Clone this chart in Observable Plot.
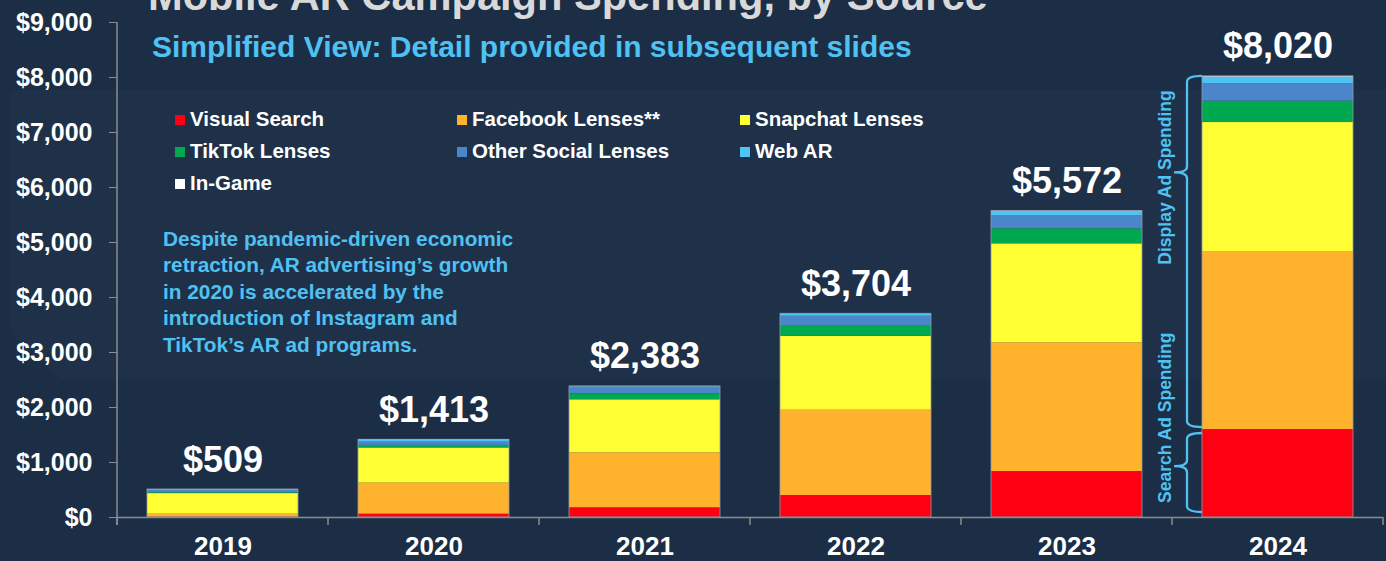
<!DOCTYPE html>
<html>
<head>
<meta charset="utf-8">
<script src="https://cdn.jsdelivr.net/npm/d3@7"></script>
<script src="https://cdn.jsdelivr.net/npm/@observablehq/plot@0.6"></script>
<style>
  html, body { margin: 0; padding: 0; background: #1c2e45; }
  #wrap { position: relative; width: 1386px; height: 561px; overflow: hidden; background: #1c2e45;
          font-family: "Liberation Sans", Arial, Helvetica, sans-serif; font-weight: bold; }
  .ov { position: absolute; white-space: nowrap; line-height: 1; }
  #panel { position: absolute; left: 11px; top: 90px; width: 1375px; height: 289px; background: #1f3149;
           clip-path: polygon(0 0, 100% 0, 100% 100%, 50px 100%, 0 244px); }
  #chart { position: absolute; left: 0; top: 0; }
  .sq { position: absolute; width: 10px; height: 10px; }
  .lg { position: absolute; white-space: nowrap; line-height: 1; font-size: 20.5px; color: #ffffff; }
</style>
</head>
<body>
<div id="wrap">
  <div id="panel"></div>
  <div id="chart"></div>
  <div class="ov" style="left:148px; top:-25px; font-size:41.6px; color:#d9d9d9;">Mobile AR Campaign Spending, by Source</div>
  <div class="ov" style="left:152px; top:31.6px; font-size:30px; color:#4fc1f2;">Simplified View: Detail provided in subsequent slides</div>
  <div id="legend"></div>
  <div id="note" class="ov" style="left:163px; top:225.5px; font-size:20.8px; line-height:26.6px; color:#4fc1f2;"></div>
</div>
<script>
// ---------- data ----------
const years = ["2019", "2020", "2021", "2022", "2023", "2024"];
const sources = ["Visual Search", "Facebook Lenses**", "Snapchat Lenses", "TikTok Lenses", "Other Social Lenses", "Web AR", "In-Game"];
const visualSearch      = [5, 60, 176, 400, 836, 1600];
const facebookLenses    = [55, 565, 1000, 1550, 2340, 3236];
const snapchatLenses    = [375, 640, 964, 1345, 1800, 2345];
const tiktokLenses      = [15, 45, 109, 182, 273, 388];
const otherSocialLenses = [40, 60, 120, 182, 242, 315];
const webAR             = [15, 30, 10, 40, 73, 121];
const inGame            = [4, 13, 4, 5, 8, 15];
const totals            = [509, 1413, 2383, 3704, 5572, 8020];
const yTicks = [0, 1000, 2000, 3000, 4000, 5000, 6000, 7000, 8000, 9000];
const sourceColors = ["#ff0013", "#ffb22c", "#ffff33", "#00a94f", "#4a86c8", "#4ec3f5", "#ffffff"];
const legendRows = [
  ["Visual Search", "Facebook Lenses**", "Snapchat Lenses"],
  ["TikTok Lenses", "Other Social Lenses", "Web AR"],
  ["In-Game"]
];
const noteLines = ["Despite pandemic-driven economic", "retraction, AR advertising\u2019s growth", "in 2020 is accelerated by the", "introduction of Instagram and", "TikTok\u2019s AR ad programs."];
const braceLabels = ["Display Ad Spending", "Search Ad Spending"];

// ---------- build table ----------
const seriesValues = [visualSearch, facebookLenses, snapchatLenses, tiktokLenses, otherSocialLenses, webAR, inGame];
const rows = [];
years.forEach((yr, i) => {
  sources.forEach((s, j) => rows.push({year: yr, source: s, value: seriesValues[j][i]}));
});
const totalRows = years.map((yr, i) => ({year: yr, total: totals[i]}));

const FONT = '"Liberation Sans", Arial, Helvetica, sans-serif';
const AXIS = "#8c8c8c";
const BLUE_TXT = "#4fc1f2";

const chart = Plot.plot({
  width: 1386,
  height: 561,
  marginLeft: 117,
  marginRight: 3,
  marginTop: 22,
  marginBottom: 44,
  style: {background: "transparent", fontFamily: FONT, color: "#ffffff", overflow: "visible"},
  x: {domain: years, paddingInner: 0.285, paddingOuter: 0.1425, axis: null},
  y: {domain: [0, 9000], axis: null},
  color: {domain: sources, range: sourceColors},
  marks: [
    Plot.barY(rows, {x: "year", y: "value", fill: "source"}),
    Plot.barY(totalRows, {x: "year", y: "total", fill: "none", stroke: "#8d9bab", strokeWidth: 0.8}),
    Plot.ruleY([0], {stroke: AXIS, strokeWidth: 1.5}),
    Plot.axisY({ticks: yTicks, tickSize: 8, tickPadding: 17, tickFormat: d => "$" + d3.format(",")(d), label: null,
                fill: "#ffffff", stroke: AXIS, fontSize: 25, fontWeight: "bold", fontFamily: FONT}),
    Plot.axisX({tickSize: 0, tickPadding: 19, label: null, fill: "#ffffff", fontSize: 26, fontWeight: "bold", fontFamily: FONT}),
    Plot.text(totalRows, {x: "year", y: "total", text: d => "$" + d3.format(",")(d.total),
                dy: -18, lineAnchor: "bottom", fill: "#ffffff", fontSize: 36, fontWeight: "bold", fontFamily: FONT})
  ]
});
document.getElementById("chart").appendChild(chart);

// ---------- axis lines, band ticks, braces (via Plot scales) ----------
const xs = chart.scale("x");
const ys = chart.scale("y");
const svg = d3.select(chart);
const g = svg.append("g");
const x0 = xs.range[0];
const step = xs.step;
// y axis line
g.append("line").attr("x1", x0).attr("x2", x0)
  .attr("y1", ys.apply(yTicks[yTicks.length - 1])).attr("y2", ys.apply(0) + 8)
  .attr("stroke", AXIS).attr("stroke-width", 1.5);
// band boundary ticks on x axis
for (let i = 0; i <= years.length; i++) {
  const xx = x0 + i * step;
  g.append("line").attr("x1", xx).attr("x2", xx)
    .attr("y1", ys.apply(0)).attr("y2", ys.apply(0) + 8)
    .attr("stroke", AXIS).attr("stroke-width", 1.5);
}
// braces beside last bar
const last = years.length - 1;
const barLeft = xs.apply(years[last]);
const bx = barLeft - 15;
function brace(x, yTop, yBot, yTip, hook, tip) {
  const r = 6;
  return `M${x + hook},${yTop} Q${x},${yTop} ${x},${yTop + r} L${x},${yTip - r} Q${x},${yTip} ${x - tip},${yTip}` +
         ` Q${x},${yTip} ${x},${yTip + r} L${x},${yBot - r} Q${x},${yBot} ${x + hook},${yBot}`;
}
const ySearchTop = ys.apply(visualSearch[last]);
const yTotal = ys.apply(totals[last]);
const yZero = ys.apply(0);
const dispTop = yTotal, dispBot = ySearchTop - 2;
const dispTip = dispBot - (dispBot - dispTop) * 0.725;
const srchTop = ySearchTop + 4, srchBot = yZero - 5;
const srchTip = srchBot - (srchBot - srchTop) * 0.58;
[[dispTop, dispBot, dispTip], [srchTop, srchBot, srchTip]].forEach(([a, b, t]) => {
  g.append("path").attr("d", brace(bx, a, b, t, 15, 13))
    .attr("fill", "none").attr("stroke", BLUE_TXT).attr("stroke-width", 2.3);
});
const lx = barLeft - 37;
g.append("text").attr("transform", `translate(${lx},${dispTip + 5}) rotate(-90)`)
  .attr("text-anchor", "middle").attr("dominant-baseline", "central")
  .attr("fill", BLUE_TXT).attr("font-size", 17.5).attr("font-weight", "bold").attr("font-family", FONT)
  .text(braceLabels[0]);
g.append("text").attr("transform", `translate(${lx},${yZero - 14}) rotate(-90)`)
  .attr("text-anchor", "start").attr("dominant-baseline", "central")
  .attr("fill", BLUE_TXT).attr("font-size", 17.5).attr("font-weight", "bold").attr("font-family", FONT)
  .text(braceLabels[1]);

// ---------- legend ----------
const legend = document.getElementById("legend");
const colX = [175, 457, 740];
const rowBase = [126, 158, 190];
legendRows.forEach((row, r) => {
  row.forEach((name, c) => {
    const sq = document.createElement("div");
    sq.className = "sq";
    sq.style.left = colX[c] + "px";
    sq.style.top = (rowBase[r] - 11) + "px";
    sq.style.background = sourceColors[sources.indexOf(name)];
    legend.appendChild(sq);
    const t = document.createElement("div");
    t.className = "lg";
    t.style.left = (colX[c] + 15) + "px";
    t.style.top = (rowBase[r] - 17.4) + "px";
    t.textContent = name;
    legend.appendChild(t);
  });
});

// ---------- note ----------
const note = document.getElementById("note");
noteLines.forEach((ln) => {
  const d = document.createElement("div");
  d.style.whiteSpace = "nowrap";
  d.textContent = ln;
  note.appendChild(d);
});
</script>
</body>
</html>
